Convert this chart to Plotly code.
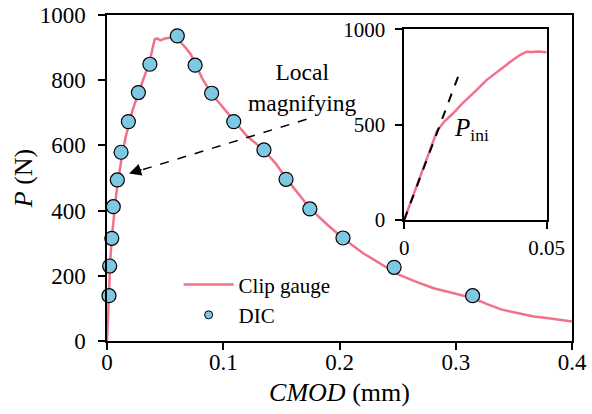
import plotly.graph_objects as go

# ---- Data ----
cmod_cg = [0, 0.001, 0.002, 0.003, 0.0045, 0.006, 0.0075, 0.009, 0.011, 0.013, 0.016, 0.019,
           0.022, 0.026, 0.030, 0.034, 0.037, 0.039, 0.041, 0.043, 0.046, 0.049, 0.052, 0.056,
           0.060, 0.064, 0.068, 0.072, 0.076, 0.082, 0.090, 0.100, 0.110, 0.120, 0.135, 0.145,
           0.155, 0.165, 0.175, 0.190, 0.203, 0.220, 0.235, 0.250, 0.265, 0.281, 0.300, 0.315,
           0.327, 0.339, 0.350, 0.367, 0.380, 0.390, 0.400]
p_cg = [0, 100, 190, 260, 330, 390, 435, 480, 530, 570, 625, 670,
        708, 750, 790, 830, 860, 895, 925, 928, 922, 927, 930, 932,
        930, 915, 898, 880, 850, 805, 758, 715, 670, 630, 585, 545,
        495, 450, 405, 355, 315, 270, 238, 205, 183, 162, 145, 131,
        113, 97, 88, 75, 70, 65, 60]

cmod_dic = [0.0017, 0.0023, 0.0041, 0.0054, 0.0089, 0.0121, 0.0184, 0.027, 0.0369, 0.0605,
            0.0758, 0.090, 0.109, 0.135, 0.154, 0.1745, 0.203, 0.247, 0.3145]
p_dic = [139, 230, 315, 412, 494, 579, 673, 762, 849, 936,
         846, 760, 673, 586, 496, 405, 316, 226, 139]

cmod_in = [0, 0.002, 0.004, 0.006, 0.008, 0.010, 0.0115, 0.014, 0.0172, 0.020, 0.0231, 0.026,
           0.0289, 0.032, 0.0348, 0.038, 0.0406, 0.043, 0.045, 0.047, 0.050]
p_in = [0, 80, 160, 240, 320, 400, 465, 515, 560, 605, 647, 690,
        734, 770, 804, 838, 865, 883, 881, 884, 880]

tangent_cmod = [0, 0.019]
tangent_p = [0, 755]

x_ticks = [0, 0.1, 0.2, 0.3, 0.4]
y_ticks = [0, 200, 400, 600, 800, 1000]
inset_x_ticks = [0, 0.05]
inset_x_labels = ["0", "0.05"]
inset_y_ticks = [0, 500, 1000]

PINK = "#F2718A"
BLUE = "#7EC8E3"
FONT = "Liberation Serif"

fig = go.Figure()

fig.add_trace(go.Scatter(x=cmod_cg, y=p_cg, mode="lines", name="Clip gauge",
                         line=dict(color=PINK, width=2.5), xaxis="x", yaxis="y"))
fig.add_trace(go.Scatter(x=cmod_dic, y=p_dic, mode="markers", name="DIC", showlegend=False,
                         marker=dict(size=14, color=BLUE, line=dict(color="black", width=1.2)),
                         cliponaxis=False, xaxis="x", yaxis="y"))
# legend-only proxy for the smaller legend symbol
fig.add_trace(go.Scatter(x=[None], y=[None], mode="markers", name="DIC",
                         marker=dict(size=8, color=BLUE, line=dict(color="black", width=1)),
                         xaxis="x", yaxis="y"))

# inset
fig.add_trace(go.Scatter(x=cmod_in, y=p_in, mode="lines", showlegend=False,
                         line=dict(color=PINK, width=2.5), xaxis="x2", yaxis="y2"))
fig.add_trace(go.Scatter(x=tangent_cmod, y=tangent_p, mode="lines", showlegend=False,
                         line=dict(color="black", width=2, dash="dash"), xaxis="x2", yaxis="y2"))

axis_common = dict(showgrid=False, zeroline=False, showline=True, linecolor="black",
                   linewidth=1.5, mirror=True, ticks="outside", ticklen=7, tickwidth=1.5,
                   tickcolor="black", automargin=False,
                   tickfont=dict(family=FONT, size=23, color="black"))

fig.update_layout(
    width=592, height=414,
    margin=dict(l=107, r=20, t=15, b=73),
    paper_bgcolor="white", plot_bgcolor="white",
    font=dict(family=FONT, color="black"),
    xaxis=dict(range=[0, 0.4], tickvals=x_ticks, domain=[0, 1],
               title=dict(text="<i>CMOD</i> (mm)", font=dict(family=FONT, size=26), standoff=8),
               ticklabelstandoff=-7, **axis_common),
    yaxis=dict(range=[0, 1000], tickvals=y_ticks, domain=[0, 1],
               title=dict(text="<i>P</i> (N)", font=dict(family=FONT, size=26), standoff=0),
               ticklabelstandoff=8, **axis_common),
    xaxis2=dict(range=[0, 0.05], tickvals=inset_x_ticks, ticktext=inset_x_labels,
                domain=[0.639, 0.9456], anchor="y2", ticklabelstandoff=1,
                **{**axis_common, "tickfont": dict(family=FONT, size=21, color="black")}),
    yaxis2=dict(range=[0, 1000], tickvals=inset_y_ticks, domain=[0.371, 0.956], anchor="x2",
                ticklabelstandoff=6,
                **{**axis_common, "tickfont": dict(family=FONT, size=21, color="black")}),
    legend=dict(x=0.154, y=0.235, xanchor="left", yanchor="top", bgcolor="rgba(0,0,0,0)",
                font=dict(family=FONT, size=21, color="black"), itemwidth=50,
                tracegroupgap=0),
    showlegend=True,
)

# dashed pointer line + arrowhead
fig.add_shape(type="line", xref="x", yref="y", x0=0.1716, y0=680, x1=0.021, y1=515,
              line=dict(color="black", width=1.5, dash="dash"))
fig.add_annotation(x=0.019, y=514, xref="x", yref="y", ax=14, ay=-4.5, text="",
                   showarrow=True, arrowhead=2, arrowsize=1.6, arrowwidth=1.5, arrowcolor="black")
fig.add_annotation(x=0.1684, y=779, xref="x", yref="y", text="Local<br>magnifying",
                   showarrow=False, font=dict(family=FONT, size=23.5, color="black"))
fig.add_annotation(x=0.0168, y=475, xref="x2", yref="y2", xanchor="left",
                   text="<i>P</i><sub>ini</sub>", showarrow=False,
                   font=dict(family=FONT, size=25, color="black"))

fig.write_html("out.html", config={"displayModeBar": False},
               post_script="document.body.style.margin='0px';document.body.style.overflow='hidden';")
